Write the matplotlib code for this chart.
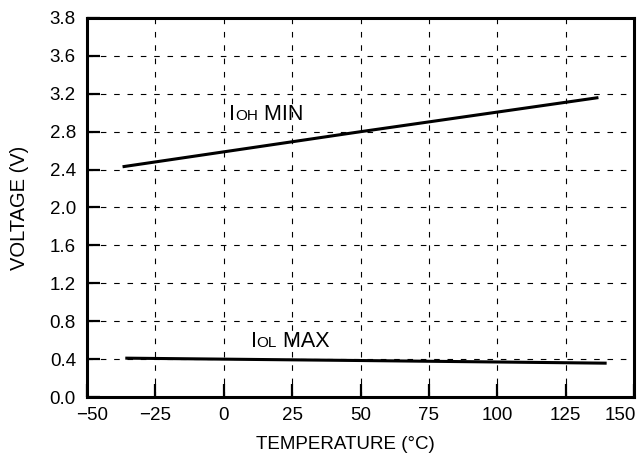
import matplotlib
matplotlib.use("Agg")
import matplotlib.pyplot as plt
import matplotlib.transforms as mtransforms
from matplotlib.offsetbox import TextArea, HPacker, AnnotationBbox

plt.rcParams['font.family'] = ['Liberation Sans', 'DejaVu Sans']

# data
temp_ioh = [-37, 50, 137]
volt_ioh = [2.43, 2.80, 3.16]
temp_iol = [-36, 50, 140]
volt_iol = [0.41, 0.385, 0.357]

x_ticks = [-50, -25, 0, 25, 50, 75, 100, 125, 150]
y_ticks = [0.0, 0.4, 0.8, 1.2, 1.6, 2.0, 2.4, 2.8, 3.2, 3.6, 4.0]
y_tick_labels = ["0.0", "0.4", "0.8", "1.2", "1.6", "2.0", "2.4", "2.8", "3.2", "3.6", "3.8"]

fig = plt.figure(figsize=(6.44, 4.69), dpi=100)
ax = fig.add_axes([87 / 644, 72 / 469, 547 / 644, 379 / 469])

ax.plot(temp_ioh, volt_ioh, color="black", lw=2.2, solid_capstyle="butt")
ax.plot(temp_iol, volt_iol, color="black", lw=2.2, solid_capstyle="butt")

ax.set_xlim(-50, 150)
ax.set_ylim(0, 4.0)
ax.set_xticks(x_ticks)
ax.set_yticks(y_ticks)
ax.set_yticklabels(y_tick_labels)

ax.grid(True, color="black", lw=0.8, linestyle=(0, (5, 7)))
ax.tick_params(direction="in", length=9.5, width=1.6, labelsize=13.5,
               top=False, right=False)
ax.tick_params(axis="y", pad=8)
ax.tick_params(axis="x", pad=7)
for s in ax.spines.values():
    s.set_linewidth(2.2)

# end labels pulled inside like the original
xlabels = ax.get_xticklabels()
xlabels[0].set_transform(xlabels[0].get_transform() +
                         mtransforms.ScaledTranslation(5 / 100, 0, fig.dpi_scale_trans))
xlabels[-1].set_horizontalalignment("right")
xlabels[-1].set_transform(xlabels[-1].get_transform() +
                          mtransforms.ScaledTranslation(2 / 100, 0, fig.dpi_scale_trans))

ax.set_xlabel("TEMPERATURE (°C)", fontsize=13.5, va="center")
ax.set_ylabel("VOLTAGE (V)", fontsize=14.5, va="center", ha="center")
ax.xaxis.set_label_coords(0.472, -0.125)
ax.yaxis.set_label_coords(-0.124, 0.5)


def curve_label(pos, sub, rest):
    parts = [TextArea("I", textprops=dict(fontsize=15.5)),
             TextArea(sub, textprops=dict(fontsize=11)),
             TextArea(" " + rest, textprops=dict(fontsize=15.5))]
    box = HPacker(children=parts, align="baseline", pad=0, sep=0)
    ab = AnnotationBbox(box, pos, xycoords="data", box_alignment=(0, 0),
                        frameon=False, pad=0)
    ax.add_artist(ab)


curve_label((2.0, 2.87), "OH", "MIN")
curve_label((9.8, 0.48), "OL", "MAX")

fig.savefig("out.png", dpi=100)
